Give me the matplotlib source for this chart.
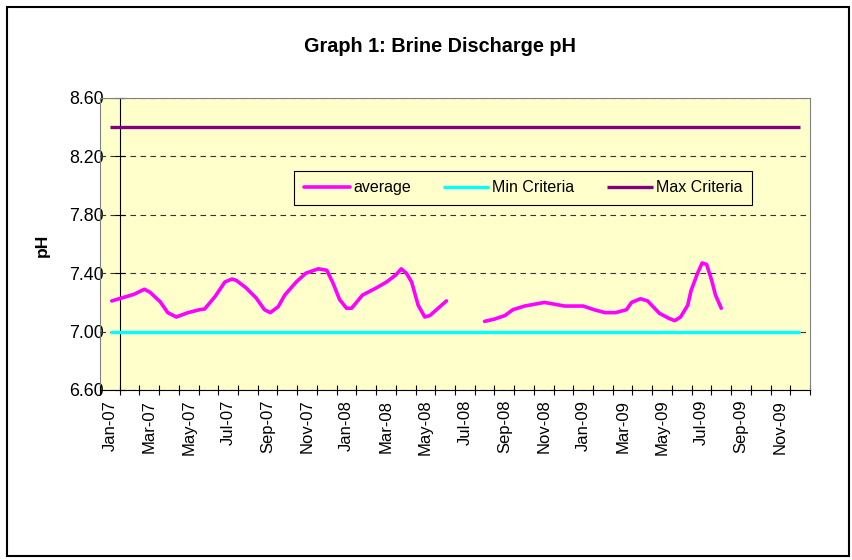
import matplotlib
matplotlib.use('Agg')
import matplotlib.pyplot as plt
import numpy as np
import pandas as pd
from matplotlib.patches import Rectangle

plt.rcParams['font.family'] = ['Liberation Sans', 'DejaVu Sans']

# ---- data ----
months = pd.date_range('2007-01-01', '2009-12-01', freq='MS')
month_labels = [d.strftime('%b-%y') for d in months]
min_criteria = [7.0] * 36
max_criteria = [8.4] * 36

avg_dates = [
    '2007-01-04', '2007-02-07', '2007-02-22', '2007-03-02', '2007-03-18', '2007-03-30',
    '2007-04-12', '2007-04-30', '2007-05-18', '2007-05-26', '2007-06-11', '2007-06-26',
    '2007-07-07', '2007-07-14', '2007-07-29', '2007-08-14', '2007-08-27', '2007-09-05',
    '2007-09-17', '2007-09-27', '2007-10-15', '2007-10-30', '2007-11-18', '2007-12-01',
    '2007-12-11', '2007-12-21', '2008-01-01', '2008-01-09', '2008-01-26', '2008-02-16',
    '2008-03-02', '2008-03-17', '2008-03-25', '2008-04-02', '2008-04-10', '2008-04-20',
    '2008-04-30', '2008-05-08', '2008-06-03',
    '2008-07-01',
    '2008-08-01', '2008-08-16', '2008-09-02', '2008-09-14', '2008-10-02', '2008-11-02',
    '2008-12-03', '2009-01-01', '2009-01-18', '2009-02-04', '2009-02-19', '2009-03-07',
    '2009-03-15', '2009-03-29', '2009-04-09', '2009-04-27', '2009-05-12', '2009-05-21',
    '2009-05-30', '2009-06-10', '2009-06-15', '2009-06-25', '2009-07-02', '2009-07-09',
    '2009-07-17', '2009-07-23', '2009-08-01',
]
avg_values = [
    7.21, 7.255, 7.29, 7.27, 7.205, 7.13,
    7.10, 7.13, 7.15, 7.155, 7.24, 7.34,
    7.36, 7.35, 7.30, 7.23, 7.15, 7.13,
    7.17, 7.25, 7.34, 7.40, 7.43, 7.42,
    7.33, 7.22, 7.16, 7.16, 7.25, 7.30,
    7.34, 7.39, 7.43, 7.40, 7.34, 7.18,
    7.10, 7.11, 7.21,
    np.nan,
    7.07, 7.085, 7.11, 7.15, 7.175, 7.20,
    7.175, 7.175, 7.15, 7.13, 7.13, 7.15,
    7.20, 7.225, 7.21, 7.125, 7.09, 7.075,
    7.10, 7.18, 7.28, 7.40, 7.47, 7.46,
    7.35, 7.25, 7.16,
]
y_ticks = [6.6, 7.0, 7.4, 7.8, 8.2, 8.6]

# ---- positions on the monthly category axis ----
d = pd.to_datetime(pd.Series(avg_dates))
avg_pos = ((d.dt.year - 2007) * 12 + (d.dt.month - 1) + (d.dt.day - 1) / d.dt.days_in_month).to_numpy()
cat_pos = np.arange(len(months))

W, H = 853, 560
fig = plt.figure(figsize=(W / 100, H / 100), dpi=100)
fig.patches.append(Rectangle((7 / W, 4 / H), (849 - 7) / W, (556 - 7) / H,
                             transform=fig.transFigure, fill=False, lw=1.5, ec='black'))

ax = fig.add_axes([100 / W, 1 - 390 / H, 710 / W, 292 / H])
ax.set_facecolor('#FFFFCC')

ax.grid(axis='y', linestyle=(0, (5, 4)), color='#333333', lw=0.8, zorder=1)
ax.set_axisbelow(True)

ax.plot(avg_pos, avg_values, color='#FF00FF', lw=2.6, solid_joinstyle='round',
        solid_capstyle='round', label='average', zorder=4)
ax.plot(cat_pos, min_criteria, color='#00FFFF', lw=2.4, solid_capstyle='butt',
        label='Min Criteria', zorder=3)
ax.plot(cat_pos, max_criteria, color='#800080', lw=2.4, solid_capstyle='butt',
        label='Max Criteria', zorder=3)

ax.set_xlim(-0.5, 35.5)
ax.set_ylim(6.6, 8.6)

ax.set_xticks(cat_pos[::2])
ax.set_xticklabels(month_labels[::2], rotation=90, fontsize=12)
ax.set_xticks(np.arange(-0.5, 36, 1), minor=True)
ax.tick_params(axis='x', which='major', length=0, pad=7)
ax.tick_params(axis='x', which='minor', direction='inout', length=7, width=0.8)

# value axis crossing at category 2
ax.spines['left'].set_position(('data', 0.5))
ax.spines['left'].set_color('black')
ax.spines['left'].set_linewidth(0.8)
ax.set_yticks(y_ticks)
ax.tick_params(axis='y', direction='inout', length=7, width=0.8, labelleft=False)

sec = ax.secondary_yaxis(0.0)
sec.set_yticks(y_ticks)
sec.set_yticklabels([f'{v:.2f}' for v in y_ticks], fontsize=12.8)
sec.tick_params(length=0, pad=-3)
sec.spines['left'].set_color('#808080')

for s in ('top', 'right'):
    ax.spines[s].set_color('#808080')
ax.spines['bottom'].set_color('black')

fig.text(440 / W, 1 - 47 / H, 'Graph 1: Brine Discharge pH', ha='center', va='center',
         fontsize=14.3, fontweight='bold')
fig.text(42 / W, 1 - 245 / H, 'pH', rotation=90, ha='center', va='center',
         fontsize=12.5, fontweight='bold')

leg = ax.legend(loc='center', bbox_to_anchor=(0.596, 0.692), ncol=3, frameon=True,
                facecolor='#FFFFCC', edgecolor='black', fancybox=False, framealpha=1,
                handlelength=2.9, columnspacing=2.0, handletextpad=0.2,
                fontsize=11.5, borderpad=0.6, borderaxespad=0)
leg.get_frame().set_linewidth(0.8)

fig.savefig('out.png', dpi=100)
